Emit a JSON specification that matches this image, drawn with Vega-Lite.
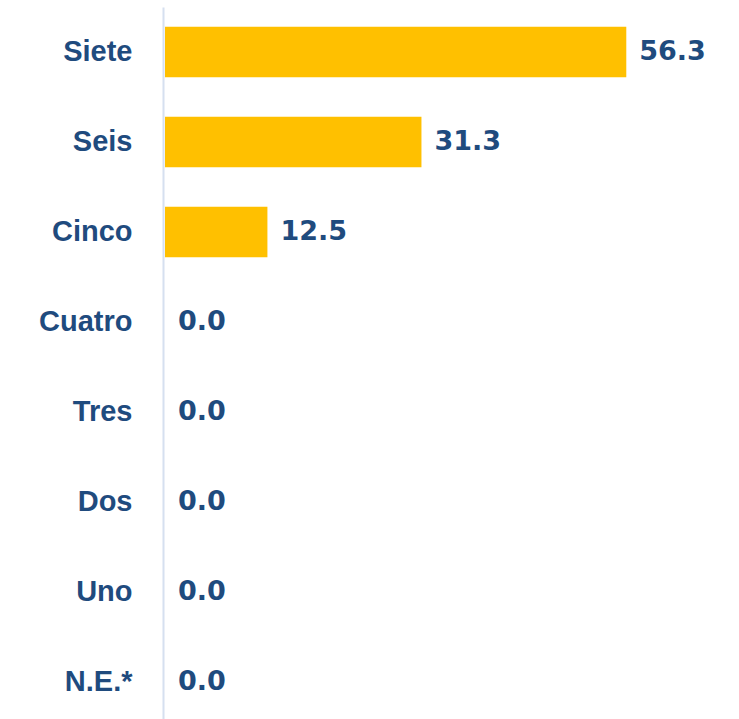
{
  "$schema": "https://vega.github.io/schema/vega-lite/v6.json",
  "autosize": "none",
  "width": 576,
  "height": 720,
  "padding": {"left": 163, "top": 7, "right": 0, "bottom": 0},
  "background": "white",
  "config": {"view": {"stroke": null}},
  "data": {"values": [
    {"cat": "Siete", "val": 56.3},
    {"cat": "Seis", "val": 31.3},
    {"cat": "Cinco", "val": 12.5},
    {"cat": "Cuatro", "val": 0.0},
    {"cat": "Tres", "val": 0.0},
    {"cat": "Dos", "val": 0.0},
    {"cat": "Uno", "val": 0.0},
    {"cat": "N.E.*", "val": 0.0}
  ]},
  "encoding": {
    "y": {"field": "cat", "type": "nominal", "sort": null,
      "scale": {"paddingInner": 0.44, "paddingOuter": 0.22},
      "axis": {"title": null, "ticks": false, "domain": true, "domainColor": "#D6E0F0", "domainWidth": 2,
        "labelFont": "Liberation Sans", "labelFontWeight": "bold", "labelFontSize": 29,
        "labelColor": "#1F4B7E", "labelPadding": 31}},
    "x": {"field": "val", "type": "quantitative",
      "scale": {"domain": [0, 70.3], "nice": false},
      "axis": null}
  },
  "layer": [
    {"mark": {"type": "bar", "color": "#FFC000", "xOffset": 2}},
    {"mark": {"type": "text", "align": "left", "dx": 15, "font": "DejaVu Sans", "fontWeight": "bold", "fontSize": 27, "color": "#1F4B7E", "baseline": "middle"},
     "encoding": {"text": {"field": "val", "type": "quantitative", "format": ".1f"}}}
  ]
}
